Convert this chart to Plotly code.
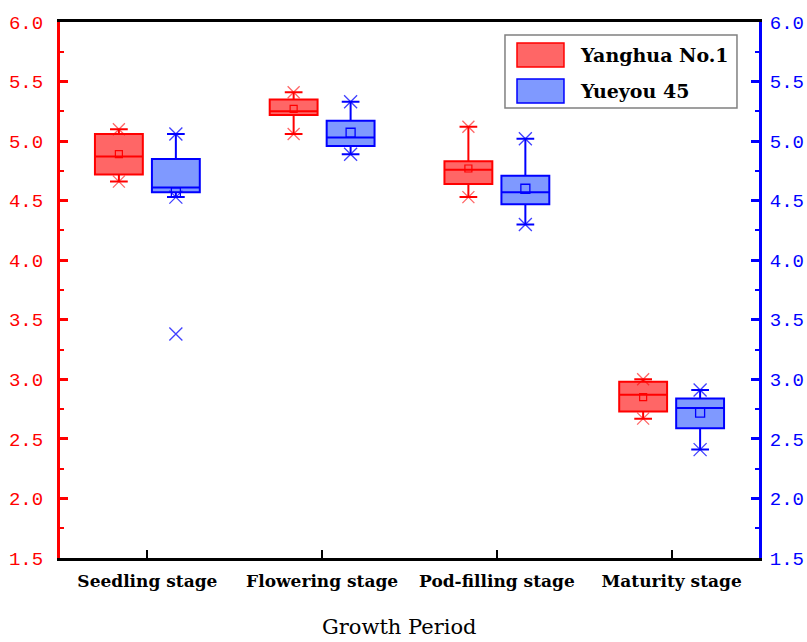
import plotly.graph_objects as go

categories = ["Seedling stage", "Flowering stage", "Pod-filling stage", "Maturity stage"]
series_names = ["Yanghua No.1", "Yueyou 45"]
x_title = "Growth Period"

# Yanghua No.1 (red)
y1_min = [4.66, 5.06, 4.53, 2.67]
y1_q1 = [4.72, 5.22, 4.64, 2.73]
y1_med = [4.87, 5.25, 4.76, 2.87]
y1_q3 = [5.06, 5.35, 4.83, 2.98]
y1_max = [5.10, 5.41, 5.12, 3.00]
y1_mean = [4.89, 5.27, 4.77, 2.85]

# Yueyou 45 (blue)
y2_min = [4.53, 4.89, 4.30, 2.41]
y2_q1 = [4.57, 4.96, 4.47, 2.59]
y2_med = [4.61, 5.03, 4.57, 2.76]
y2_q3 = [4.85, 5.17, 4.71, 2.84]
y2_max = [5.06, 5.33, 5.02, 2.91]
y2_mean = [4.57, 5.07, 4.60, 2.72]
y2_outlier_cat = [0]
y2_outlier_val = [3.38]

tick_vals = [1.5, 2.0, 2.5, 3.0, 3.5, 4.0, 4.5, 5.0, 5.5, 6.0]

OFF = 0.163
BW = 0.274
idx = [i + 1 for i in range(len(categories))]
xr = [i - OFF for i in idx]
xb = [i + OFF for i in idx]

RED = "rgb(255,0,0)"
BLUE = "rgb(0,0,255)"
RED_FILL = "rgba(255,0,0,0.6)"
BLUE_FILL = "rgba(0,51,255,0.5)"
RED_MK = "rgba(255,0,0,0.6)"
BLUE_MK = "rgba(0,0,255,0.75)"

fig = go.Figure()

fig.add_trace(go.Box(
    name=series_names[0], x=xr, q1=y1_q1, median=y1_med, q3=y1_q3,
    lowerfence=y1_min, upperfence=y1_max, width=BW, whiskerwidth=0.37,
    fillcolor=RED_FILL, line=dict(color=RED, width=2), boxpoints=False,
    showlegend=False, hoverinfo="y"))
fig.add_trace(go.Box(
    name=series_names[1], x=xb, q1=y2_q1, median=y2_med, q3=y2_q3,
    lowerfence=y2_min, upperfence=y2_max, width=BW, whiskerwidth=0.37,
    fillcolor=BLUE_FILL, line=dict(color=BLUE, width=2), boxpoints=False,
    showlegend=False, hoverinfo="y"))

# min / max markers
fig.add_trace(go.Scatter(
    x=xr + xr, y=y1_min + y1_max, mode="markers", showlegend=False,
    marker=dict(symbol="x-thin-open", size=12, color=RED_MK, line=dict(color=RED_MK, width=1.3))))
fig.add_trace(go.Scatter(
    x=xb + xb, y=y2_min + y2_max, mode="markers", showlegend=False,
    marker=dict(symbol="x-thin-open", size=13, color=BLUE_MK, line=dict(color=BLUE_MK, width=1.3))))
# outlier
fig.add_trace(go.Scatter(
    x=[idx[c] + OFF for c in y2_outlier_cat], y=y2_outlier_val, mode="markers", showlegend=False,
    marker=dict(symbol="x-thin-open", size=13, color=BLUE_MK, line=dict(color=BLUE_MK, width=1.3))))
# means
fig.add_trace(go.Scatter(
    x=xr, y=y1_mean, mode="markers", showlegend=False,
    marker=dict(symbol="square-open", size=7, color=RED, line=dict(color=RED, width=1.2))))
fig.add_trace(go.Scatter(
    x=xb, y=y2_mean, mode="markers", showlegend=False,
    marker=dict(symbol="square-open", size=9, color=BLUE, line=dict(color=BLUE, width=1.3))))
# dummy trace for right axis
fig.add_trace(go.Scatter(x=[1], y=[4], yaxis="y2", mode="markers",
                         marker=dict(opacity=0), showlegend=False, hoverinfo="skip"))

tick_font = dict(family="Liberation Mono", size=19)

fig.update_layout(
    width=807, height=642,
    margin=dict(l=60, r=48, t=22, b=84),
    paper_bgcolor="white", plot_bgcolor="white",
    xaxis=dict(
        range=[0.5, 4.5], tickvals=idx, ticktext=categories,
        ticks="inside", ticklen=8, tickwidth=2, tickcolor="black",
        showline=True, linecolor="black", linewidth=2.5, mirror=True,
        showgrid=False, zeroline=False, automargin=False,
        tickfont=dict(family="DejaVu Serif", size=17, color="black", weight="bold"),
        ticklabelstandoff=6,
    ),
    yaxis=dict(
        range=[1.5, 6.0], tickvals=tick_vals, tickformat=".1f",
        ticks="inside", ticklen=8, tickwidth=2.5, tickcolor=RED,
        showline=True, linecolor=RED, linewidth=3,
        showgrid=False, zeroline=False, automargin=False,
        tickfont=dict(color=RED, **tick_font), ticklabelstandoff=10,
        minor=dict(ticks="inside", ticklen=4, tickwidth=2, tickcolor=RED, dtick=0.25),
    ),
    yaxis2=dict(
        range=[1.5, 6.0], tickvals=tick_vals, tickformat=".1f",
        overlaying="y", side="right",
        ticks="inside", ticklen=8, tickwidth=2.5, tickcolor=BLUE,
        showline=True, linecolor=BLUE, linewidth=3,
        showgrid=False, zeroline=False, automargin=False,
        tickfont=dict(color=BLUE, **tick_font), ticklabelstandoff=4,
        minor=dict(ticks="inside", ticklen=4, tickwidth=2, tickcolor=BLUE, dtick=0.25),
    ),
)

# x-axis title
fig.add_annotation(xref="paper", yref="paper", x=0.485, y=-0.129, text=x_title,
                   showarrow=False, xanchor="center", yanchor="middle",
                   font=dict(family="DejaVu Serif", size=21, color="black"))

# custom legend
fig.add_shape(type="rect", xref="paper", yref="paper", x0=0.6366, x1=0.9685, y0=0.8396, y1=0.9757,
              line=dict(color="#808080", width=1.5), fillcolor="white", layer="above")
fig.add_shape(type="rect", xref="paper", yref="paper", x0=0.6538, x1=0.721, y0=0.916, y1=0.9608,
              line=dict(color=RED, width=1.5), fillcolor=RED_FILL, layer="above")
fig.add_shape(type="rect", xref="paper", yref="paper", x0=0.6538, x1=0.721, y0=0.849, y1=0.8937,
              line=dict(color=BLUE, width=1.5), fillcolor=BLUE_FILL, layer="above")
for name, yy in zip(series_names, [0.9384, 0.8713]):
    fig.add_annotation(xref="paper", yref="paper", x=0.741, y=yy, text="<b>%s</b>" % name,
                       showarrow=False, xanchor="left", yanchor="middle",
                       font=dict(family="DejaVu Serif", size=19, color="black"))

fig.write_html("out.html")
